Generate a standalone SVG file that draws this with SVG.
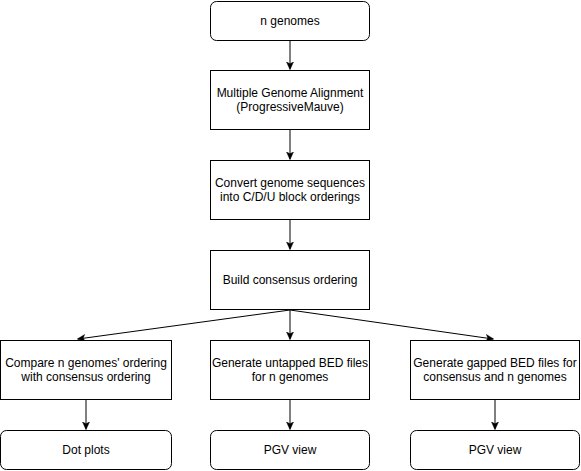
<svg xmlns="http://www.w3.org/2000/svg" width="581" height="471" viewBox="0 0 581 471">
<style>
.box{fill:#fff;stroke:#000;stroke-width:1}
.t{font-family:"Liberation Sans",Arial,sans-serif;font-size:12px;fill:#000;text-anchor:middle}
.e{fill:none;stroke:#000;stroke-width:1}
</style>
<defs>
<marker id="a" viewBox="0 0 10 10" refX="9" refY="5" markerWidth="8" markerHeight="8" markerUnits="userSpaceOnUse" orient="auto">
<path d="M0,0.5 L10,5 L0,9.5 L2.5,5 Z" fill="#000" stroke="#000" stroke-width="0.5"/>
</marker>
</defs>
<rect width="581" height="471" fill="#fff"/>
<g id="connectors">
<line class="e" x1="290" y1="41" x2="290" y2="69" marker-end="url(#a)"/>
<line class="e" x1="290" y1="130" x2="290" y2="159" marker-end="url(#a)"/>
<line class="e" x1="290" y1="220" x2="290" y2="249" marker-end="url(#a)"/>
<line class="e" x1="290" y1="310" x2="290" y2="339" marker-end="url(#a)"/>
<line class="e" x1="290" y1="310" x2="78" y2="339" marker-end="url(#a)"/>
<line class="e" x1="290" y1="310" x2="493" y2="339" marker-end="url(#a)"/>
<line class="e" x1="86" y1="400" x2="86" y2="429" marker-end="url(#a)"/>
<line class="e" x1="290" y1="400" x2="290" y2="429" marker-end="url(#a)"/>
<line class="e" x1="495" y1="400" x2="495" y2="429" marker-end="url(#a)"/>
</g>
<g id="n1"><rect class="box" x="210.5" y="1.5" width="159" height="39" rx="6"/><text class="t" x="290" y="25">n genomes</text></g>
<g id="n2"><rect class="box" x="210.5" y="70.5" width="159" height="59"/><text class="t" x="290" y="97">Multiple Genome Alignment</text><text class="t" x="290" y="111">(ProgressiveMauve)</text></g>
<g id="n3"><rect class="box" x="210.5" y="160.5" width="159" height="59"/><text class="t" x="290" y="187">Convert genome sequences</text><text class="t" x="290" y="201">into C/D/U block orderings</text></g>
<g id="n4"><rect class="box" x="210.5" y="250.5" width="159" height="59"/><text class="t" x="290" y="284">Build consensus ordering</text></g>
<g id="n5"><rect class="box" x="0.5" y="340.5" width="171" height="59"/><text class="t" x="86" y="367">Compare n genomes' ordering</text><text class="t" x="86" y="381">with consensus ordering</text></g>
<g id="n6"><rect class="box" x="210.5" y="340.5" width="159" height="59"/><text class="t" x="290" y="367">Generate untapped BED files</text><text class="t" x="290" y="381">for n genomes</text></g>
<g id="n7"><rect class="box" x="410.5" y="340.5" width="169" height="59"/><text class="t" x="495" y="367">Generate gapped BED files for</text><text class="t" x="495" y="381">consensus and n genomes</text></g>
<g id="n8"><rect class="box" x="0.5" y="430.5" width="171" height="39" rx="6"/><text class="t" x="86" y="454">Dot plots</text></g>
<g id="n9"><rect class="box" x="210.5" y="430.5" width="159" height="39" rx="6"/><text class="t" x="290" y="454">PGV view</text></g>
<g id="n10"><rect class="box" x="410.5" y="430.5" width="169" height="39" rx="6"/><text class="t" x="495" y="454">PGV view</text></g>
</svg>
